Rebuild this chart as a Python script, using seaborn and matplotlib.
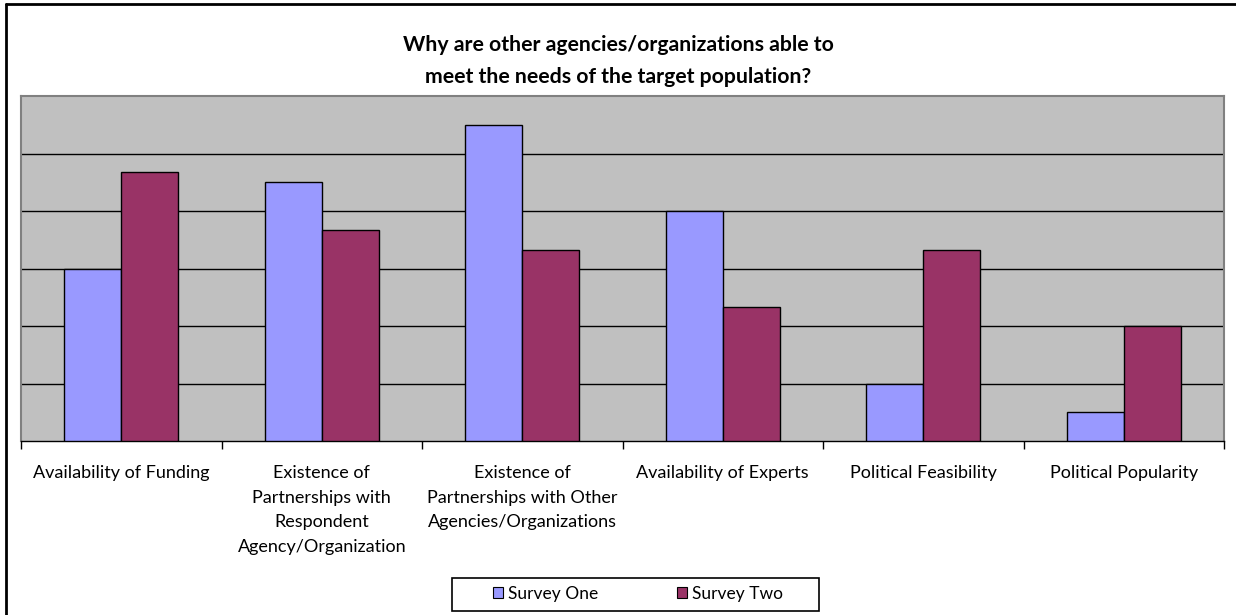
import matplotlib
matplotlib.use("Agg")
import matplotlib.pyplot as plt
from matplotlib.lines import Line2D
from matplotlib.patches import Rectangle
from matplotlib.ticker import FixedLocator, NullFormatter
import seaborn as sns
import pandas as pd

# Survey responses (percent of respondents)
categories = [
    "Availability of Funding",
    "Existence of\nPartnerships with\nRespondent\nAgency/Organization",
    "Existence of\nPartnerships with Other\nAgencies/Organizations",
    "Availability of Experts",
    "Political Feasibility",
    "Political Popularity",
]
survey_one = [30.0, 45.0, 55.0, 40.0, 10.0, 5.0]
survey_two = [46.7, 36.7, 33.3, 23.3, 33.3, 20.0]
series_names = ["Survey One", "Survey Two"]
colors = ["#9999FF", "#993366"]

df = pd.DataFrame({
    "Category": categories * 2,
    "Survey": [series_names[0]] * len(categories) + [series_names[1]] * len(categories),
    "Value": survey_one + survey_two,
})

sns.set_theme(style="white")
plt.rcParams["font.family"] = ["Lato", "DejaVu Sans"]
plt.rcParams["text.color"] = "black"

W, H = 1236, 615
fig = plt.figure(figsize=(W / 100, H / 100), dpi=100)
ax = fig.add_axes([21 / W, 1 - 441 / H, 1203 / W, 345 / H])
ax.set_facecolor("#C0C0C0")

sns.barplot(
    data=df, x="Category", y="Value", hue="Survey", order=categories,
    hue_order=series_names, palette=colors, saturation=1, width=0.57,
    edgecolor="black", linewidth=1.0, ax=ax, legend=True, zorder=3,
)

ax.set_xlim(-0.5, len(categories) - 0.5)
ax.set_ylim(0, 60)
ax.set_yticks([10, 20, 30, 40, 50])
ax.yaxis.grid(True, color="black", linewidth=1.0, zorder=1)
ax.set_axisbelow(True)
ax.tick_params(axis="y", left=False, labelleft=False)
ax.set_xlabel("")
ax.set_ylabel("")

# Category labels centred, tick marks at category boundaries
ax.tick_params(axis="x", which="major", length=0, pad=17.5)
ax.xaxis.set_minor_locator(FixedLocator([i - 0.5 for i in range(len(categories) + 1)]))
ax.xaxis.set_minor_formatter(NullFormatter())
ax.tick_params(axis="x", which="minor", direction="out", length=6, width=1, color="black", bottom=True)
for lbl in ax.get_xticklabels():
    lbl.set_fontsize(13)
    lbl.set_linespacing(1.65)
    lbl.set_verticalalignment("top")
    lbl.set_color("black")

for side in ["left", "top", "right"]:
    ax.spines[side].set_color("#808080")
    ax.spines[side].set_linewidth(1.5)
ax.spines["bottom"].set_color("black")
ax.spines["bottom"].set_linewidth(1.0)

# Two-line title
fig.text(0.5, 1 - 45 / H, "Why are other agencies/organizations able to",
         ha="center", va="center", fontsize=15.3, fontweight="bold", color="black")
fig.text(0.5, 1 - 77 / H, "meet the needs of the target population?",
         ha="center", va="center", fontsize=15.3, fontweight="bold", color="black")

handles, labels = ax.get_legend_handles_labels()
ax.get_legend().remove()
leg = fig.legend(
    handles, labels, loc="center", bbox_to_anchor=(638 / W, 1 - 594 / H),
    ncol=2, frameon=False, fontsize=12.5,
    handlelength=0.6, handleheight=0.6, handletextpad=0.3, columnspacing=4.5,
    borderpad=0.4, borderaxespad=0,
)
for h in leg.legend_handles:
    h.set_edgecolor("black")
    h.set_linewidth(0.8)
for t in leg.get_texts():
    t.set_color("black")

# Legend box
fig.add_artist(Rectangle((452 / W, 1 - 611 / H), 367 / W, 33 / H, transform=fig.transFigure,
                         facecolor="none", edgecolor="black", linewidth=1.2))

# Chart frame
fig.add_artist(Line2D([6 / W, 6 / W], [0, 1 - 4 / H], transform=fig.transFigure, color="black", linewidth=2))
fig.add_artist(Line2D([6 / W, 1.0], [1 - 4 / H, 1 - 4 / H], transform=fig.transFigure, color="black", linewidth=2))

fig.savefig("out.png", dpi=100)
